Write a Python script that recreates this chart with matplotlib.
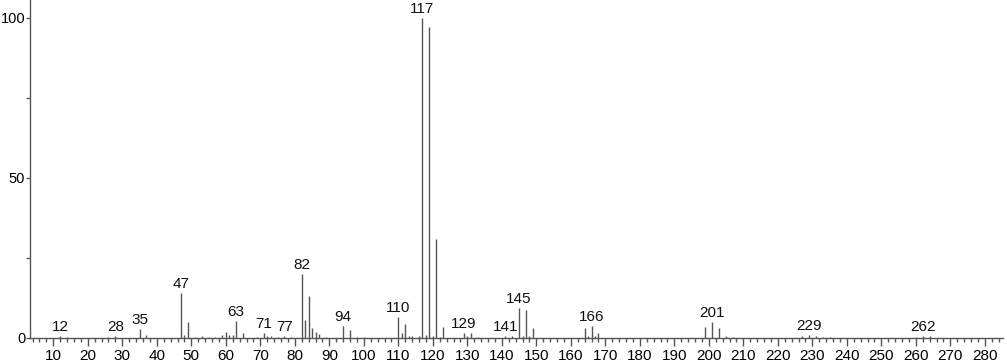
import numpy as np
import matplotlib.pyplot as plt
from matplotlib.ticker import MultipleLocator

plt.rcParams['font.family'] = ['Liberation Sans', 'DejaVu Sans']

mz = [12, 14, 26, 28, 35, 37, 47, 48, 49, 51, 53, 55, 57, 59, 60, 61, 62,
      63, 65, 69, 71, 72, 73, 75, 77, 79, 82, 83, 84, 85, 86, 87, 89,
      94, 96, 98, 100, 110, 111, 112, 113, 114, 116, 117, 118, 119, 120,
      121, 122, 123, 129, 130, 131, 133, 141, 143, 145, 146, 147, 148, 149,
      164, 165, 166, 167, 168, 199, 201, 203, 205, 207,
      227, 229, 231, 233, 235, 260, 262, 264]
intensity = [0.5, 0.3, 0.3, 0.5, 2.8, 0.8, 14, 1.0, 5.0, 0.3, 0.5, 0.4, 0.4, 0.8, 2.0, 0.8, 1.0,
             5.3, 1.5, 0.3, 1.5, 0.5, 0.5, 0.3, 0.5, 0.3, 20, 5.5, 13, 3.0, 2.0, 1.3, 0.3,
             3.7, 2.5, 0.3, 0.3, 6.6, 1.6, 4.5, 0.6, 0.5, 0.5, 100, 1.0, 97.3, 0.5,
             31, 0.4, 3.3, 1.5, 0.5, 1.5, 0.3, 0.5, 0.5, 9.5, 0.5, 8.8, 0.5, 3.0,
             3.0, 0.5, 3.8, 0.5, 1.5, 3.5, 5.0, 3.0, 0.5, 0.3,
             0.5, 1.0, 0.5, 0.3, 0.3, 0.3, 0.5, 0.5]

labeled = [12, 28, 35, 47, 63, 71, 77, 82, 94, 110, 117, 129, 141, 145, 166, 201, 229, 262]

fig = plt.figure(figsize=(10.07, 3.62), dpi=100)
ax = fig.add_axes([0.0298, 0.0663, 0.966, 0.9337])

ax.vlines(mz, 0, intensity, color='#555555', linewidth=1.0)

peaks = dict(zip(mz, intensity))
for m in labeled:
    ax.annotate(str(m), (m, peaks[m]), xytext=(0, 1.5), textcoords='offset points',
                ha='center', va='bottom', fontsize=11, color='#111111')

ax.set_xlim(3.25, 285.2)
ax.set_ylim(0, 105.6)

ax.xaxis.set_minor_locator(MultipleLocator(2))
ax.set_xticks(np.arange(10, 281, 10))
ax.set_yticks([0, 50, 100])
ax.yaxis.set_minor_locator(MultipleLocator(25))

for s in ['top', 'right']:
    ax.spines[s].set_visible(False)
for s in ['left', 'bottom']:
    ax.spines[s].set_color('#555555')
    ax.spines[s].set_linewidth(1.0)

ax.tick_params(axis='x', which='major', direction='out', length=6, width=1,
               color='#555555', labelsize=11, pad=2)
ax.tick_params(axis='x', which='minor', direction='out', length=3, width=1, color='#555555')
ax.tick_params(axis='y', which='major', direction='out', length=3, width=1,
               color='#555555', labelsize=10.5, pad=0.5)
ax.tick_params(axis='y', which='minor', direction='out', length=3, width=1, color='#555555')

fig.savefig('out.png', dpi=100)
